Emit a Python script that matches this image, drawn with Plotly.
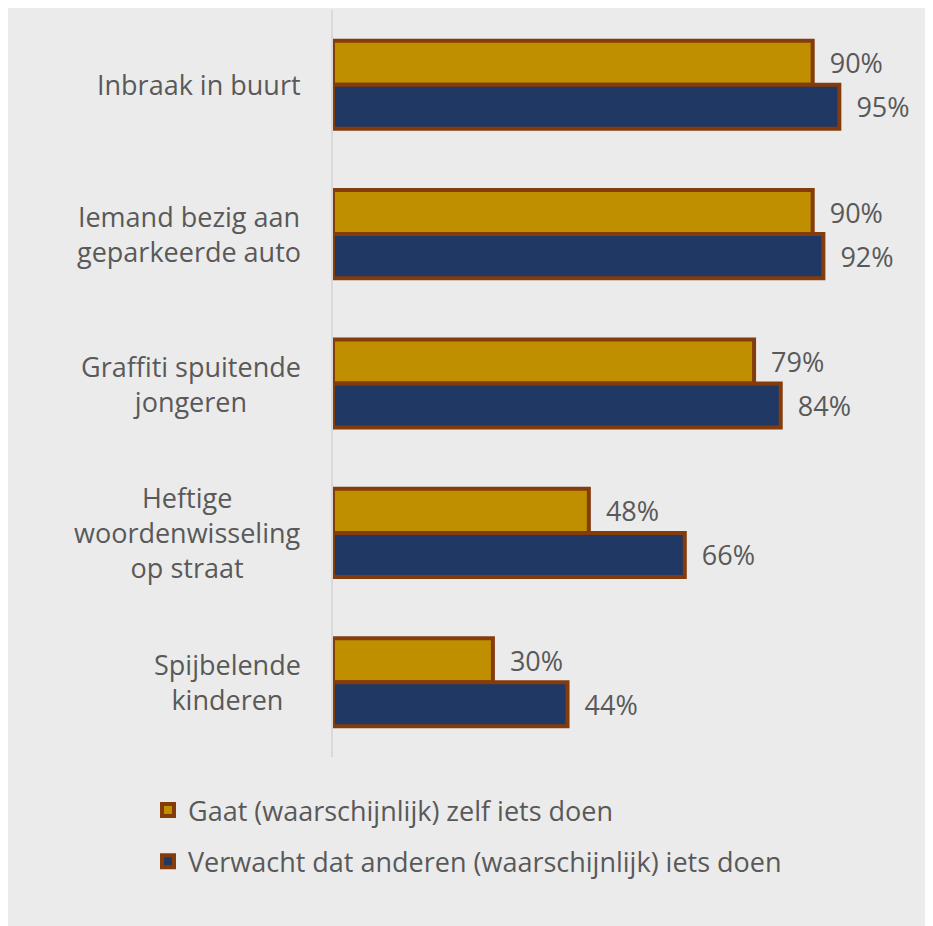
import plotly.graph_objects as go

categories = ['Inbraak in buurt', 'Iemand bezig aan<br>geparkeerde auto', 'Graffiti spuitende<br>jongeren',
              'Heftige<br>woordenwisseling<br>op straat', 'Spijbelende<br>kinderen']
zelf = [90, 90, 79, 48, 30]
anderen = [95, 92, 84, 66, 44]
series_names = ['Gaat (waarschijnlijk) zelf iets doen', 'Verwacht dat anderen (waarschijnlijk) iets doen']

W, H = 933, 926
L, R, T, B = 325, 75, 2, 177
pw, ph = W - L - R, H - T - B
font = 'Open Sans'
fs = 27
txt = '#595959'
edge = '#843C0C'

fig = go.Figure()
fig.add_trace(go.Bar(y=categories, x=zelf, name=series_names[0], orientation='h',
                     marker=dict(color='#BF8F00', line=dict(color=edge, width=4)),
                     texttemplate='\u00a0\u00a0%{x}%', textposition='outside', cliponaxis=False,
                     textfont=dict(color=txt, size=fs, family=font), legendgroup='a'))
fig.add_trace(go.Bar(y=categories, x=anderen, name=series_names[1], orientation='h',
                     marker=dict(color='#203864', line=dict(color=edge, width=4)),
                     texttemplate='\u00a0\u00a0%{x}%', textposition='outside', cliponaxis=False,
                     textfont=dict(color=txt, size=fs, family=font), legendgroup='b'))

# category labels: right-aligned blocks, lines centred inside
annots = [dict(x=0, xref='paper', y=cat, yref='y', text=cat, showarrow=False,
               xanchor='right', yanchor='middle', align='center', xshift=-30,
               font=dict(color=txt, size=fs, family=font)) for cat in categories]

fig.update_layout(
    width=W, height=H,
    margin=dict(l=L, r=R, t=T, b=B),
    paper_bgcolor='#EBEBEB', plot_bgcolor='#EBEBEB',
    barmode='group', bargap=0.41, bargroupgap=0,
    font=dict(family=font, color=txt, size=fs),
    xaxis=dict(range=[0, 100], showgrid=False, zeroline=False, showticklabels=False, fixedrange=True),
    yaxis=dict(autorange='reversed', showticklabels=False, showline=True, linecolor='#D9D9D9',
               linewidth=1.5, ticks='', showgrid=False),
    legend=dict(x=(140 - L) / pw, y=-(778 - T - ph) / ph, xanchor='left', yanchor='top',
                bgcolor='rgba(0,0,0,0)', tracegroupgap=13, traceorder='grouped',
                font=dict(size=fs, color=txt, family=font), itemwidth=30),
    annotations=annots,
)

fig.write_html('out.html')
